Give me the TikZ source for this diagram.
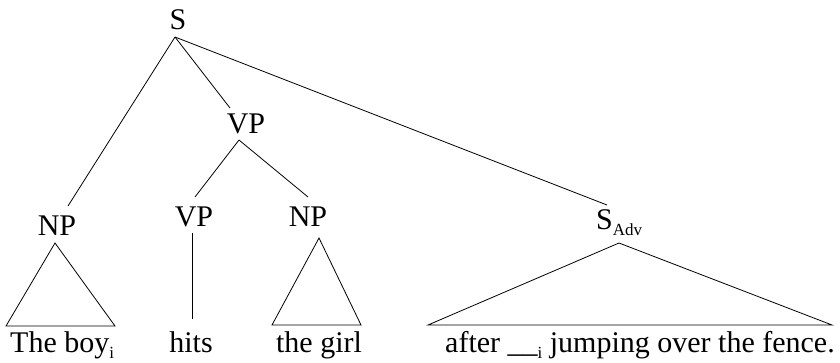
\documentclass[tikz,border=0pt]{standalone}
\usepackage{fontspec}
\setmainfont{Liberation Serif}
\newcommand\mysub[1]{\raisebox{-0.22em}{\fontsize{17}{17}\selectfont #1}}
\tikzset{
  lab/.style={inner sep=0pt, anchor=base, font=\fontsize{30}{36}\selectfont},
  labw/.style={inner sep=0pt, anchor=base west, font=\fontsize{30}{36}\selectfont},
  edge/.style={line width=0.8pt, black}
}
\begin{document}
\begin{tikzpicture}[x=1pt,y=-1pt]
\useasboundingbox (0,0) rectangle (840,362);
% labels
\node[lab] (S) at (178,29) {S};
\node[lab] (VP) at (246,133) {VP};
\node[lab] (VPl) at (194,226) {VP};
\node[lab] (NPr) at (308,226) {NP};
\node[lab] (NPl) at (57,235) {NP};
\node[labw] (Sadv) at (596,229) {S\mysub{Adv}};
\node[labw] (w1) at (10,352) {The boy\mysub{i}};
\node[lab] (w2) at (191,352) {hits};
\node[lab] (w3) at (319,352) {the girl};
\node[labw] (w4) at (445,352) {after \_\_\mysub{i} jumping over the fence.};
% connector points
\coordinate (sb) at (175,37);
\coordinate (npLt) at (68,206);
\coordinate (vpt) at (230,108);
\coordinate (sadvt) at (607,205);
\coordinate (vpb) at (239,140);
\coordinate (vpLt) at (195,197);
\coordinate (npRt) at (308,197);
\coordinate (vpLb) at (192,233);
\coordinate (hitst) at (192,319);
\coordinate (npLa) at (55,243);
\coordinate (npLb1) at (6,326);
\coordinate (npLb2) at (115,326);
\coordinate (npRa) at (319,238);
\coordinate (npRb1) at (272,325);
\coordinate (npRb2) at (361,325);
\coordinate (sadva) at (619,243);
\coordinate (sadvb1) at (428,325);
\coordinate (sadvb2) at (832,325);
% edges
\draw[edge] (sb) -- (npLt);
\draw[edge] (sb) -- (vpt);
\draw[edge] (sb) -- (sadvt);
\draw[edge] (vpb) -- (vpLt);
\draw[edge] (vpb) -- (npRt);
\draw[edge] (vpLb) -- (hitst);
\draw[edge] (npLa) -- (npLb1) -- (npLb2) -- cycle;
\draw[edge] (npRa) -- (npRb1) -- (npRb2) -- cycle;
\draw[edge] (sadva) -- (sadvb1) -- (sadvb2) -- cycle;
\end{tikzpicture}
\end{document}
